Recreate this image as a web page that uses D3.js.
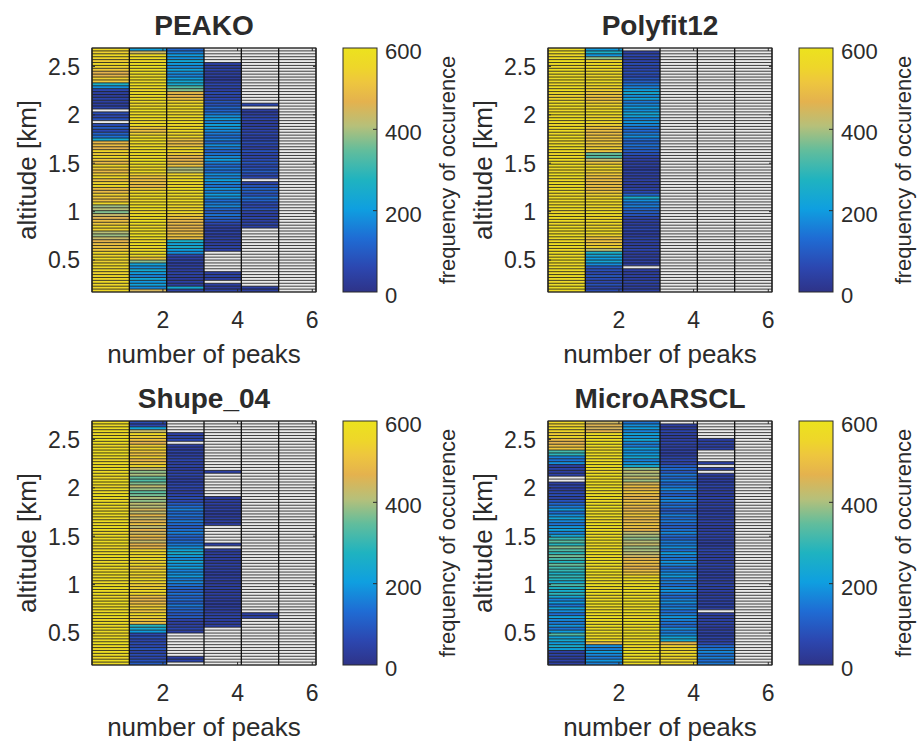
<!DOCTYPE html>
<html>
<head>
<meta charset="utf-8">
<script src="https://cdn.jsdelivr.net/npm/d3@7"></script>
<style>
  body { margin: 0; background: #fff; }
  svg { display: block; font-family: "Liberation Sans", Arial, Helvetica, sans-serif; }
</style>
</head>
<body>
<div id="chart"></div>
<script>
const _ = null; // no peaks of that count at this altitude

// number of peaks (columns) and altitude bins (rows, listed top -> bottom)
const peaks = [1, 2, 3, 4, 5, 6];
const altTop = 2.69, altBin = 0.03, nBins = 84;
const xTicks = [2, 4, 6];
const yTicks = [0.5, 1, 1.5, 2, 2.5];
const cbTicks = [0, 200, 400, 600];
const titles = ["PEAKO", "Polyfit12", "Shupe_04", "MicroARSCL"];

const noPeaks = [_,_,_,_,_,_,_,_,_,_, _,_,_,_,_,_,_,_,_,_, _,_,_,_,_,_,_,_,_,_, _,_,_,_,_,_,_,_,_,_, _,_,_,_,_,_,_,_,_,_, _,_,_,_,_,_,_,_,_,_, _,_,_,_,_,_,_,_,_,_, _,_,_,_,_,_,_,_,_,_, _,_,_,_];

const peako = [
  [560,540,570,550,530,560,545,520,470,480, 540,520,260,180,60,40,30,50,40,35, 50,_,70,60,80,_,70,100,60,110, 140,250,480,500,470,550,530,565,520,490, 550,530,490,530,560,500,545,565,500,490, 540,520,500,555,390,410,370,430,460,500, 520,555,540,410,390,430,470,500,510,520, 560,550,570,540,560,555,560,545,560,550, 565,560,555,560],
  [210,440,570,580,560,575,590,570,580,565, 580,570,590,575,560,585,570,580,575,560, 580,590,570,585,575,560,580,520,500,540, 570,580,575,560,585,570,580,560,590,575, 570,560,580,540,520,500,510,490,530,560, 575,580,560,570,585,575,560,580,570,585, 575,560,580,570,590,575,560,580,570,560, 575,560,520,380, 220,180,240,200,160,230,190,210,170,450],
  [120,150,200,180,230,200,170,220,180,160, 200,230,240,330,370,490,480,510,550,565, 575,565,550,580,565,585,560,575,565,550, 565,510,490,500,550,565,530,480,470,490, 510,400,410,550,565,575,560,565,585,570, 575,565,580,560,565,550,565,530,510,480, 490,470,480,490,510,500,260,220,250,200, 180,60,40,50,30,45,35,50,40,30, 40,35,230,45],
  [_,_,_,_,_, 40,30,50,35,45,30,40,60,50,40,70,50, 60,90,80,120,110,140, 180,200,160,210,190,170,150, 130,160,120,180,150,110,140,170,200,160, 120,150,130,180,160,210,170,140,190,160, 200,180,130,150,170,120,100,140,110,90, 60,40,35,50,30,45,40,35,50,40, _,_,_,_,_,_,_, 40,50,35, _, 40,30,45],
  [_,_,_,_,_,_,_,_,_,_, _,_,_,_,_,_,_,_,_, 60, _, 40,30,50,60,40,35,50,45,60,40, 50,70,60,40,80,60,50,70,90,60, 80,100,70,60, _, 50,90,120,100,80,140,110,70,60,90, 50,40,60,35,50,40, _,_,_,_,_,_,_,_,_,_, _,_,_,_,_,_,_,_,_,_, 40,35],
  noPeaks
];

const polyfit12 = [
  [570,580,560,575,585,570,560,580,575,565, 580,570,560,585,575,560,540,550,570,580, 575,560,580,570,585,575,560,580,570,565, 580,570,560,575,585,570,560,580,575,565, 580,570,560,585,575,560,580,570,585,575, 560,580,570,565,580,570,560,575,585,570, 560,580,575,565,580,570,560,585,575,560, 580,570,585,575,560,580,570,565,580,570, 560,575,585,570],
  [200,260,190,380, 550,570,575,560,565,555, 560,575,565,550,540,520,510,505,530,550, 560,565,575,550,565,555,540,515,500,495, 510,505,525,515,540,510,350,330,420,520, 550,565,540,525,510,500,495,505,500,520, 540,555,565,560,565,555,575,565,560,565, 560,555,565,575,550,515,510,525,550,420, 260,220,200,230,180,100,80,60,90,70, 60,80,50,70],
  [_, 40,60,50,45,70,50,60,80,60,90,100, 140,160,200,240,180,220,150,170, 200,180,230,210,160,190,170,140,120,150, 180,130,110,140,120,100,80, 50,40,35,45,30,50,40,35,45,40,30,50,60, 120,250,180,140,160,120,100,90, 50,40,35,45,60,40,30,50,45,35,40,55,40,30,45,40,35, _, 40,30,45,35,50,40,35,45],
  noPeaks,
  noPeaks,
  noPeaks
];

const shupe04 = [
  [580,570,585,575,560,580,590,575,565,580, 575,585,570,560,580,575,590,570,580,565, 585,575,560,580,570,590,575,565,580,570, 560,585,575,570,580,565,590,575,560,580, 570,585,575,560,580,570,590,575,565,580, 575,560,585,570,580,565,575,590,570,580, 560,575,585,570,580,565,590,575,560,580, 570,585,575,560,580,570,590,575,565,580, 575,560,585,570],
  [70,60,220, 430,560, 540,510,470,530,550, 520,500,540,480,520,550,430, 380,400,350,330,370,420,390,340,360,400,380,420,410, 450,420, 480,430,460,500,420,470,440,490,460,430,470,480, 540,560,550,570,540,560,520,550,560,540,570,550,530,540,560,550, 500,480,490,520,540,510,560,540,520,500, 280,240,200, 60,80,50,70,60,90,50,70,60,80,100],
  [_,_,_,_, 40,50,60, _, 40,30,50,35,45,60,40,50,30,45,55,40,35,50,60,45,40,55,70,60, 100,130,160,120,140,110,150,130,100,140,160,120,110,130,150, 180,220,250,200,170,230,190,210,160,180,200,150,170,140, 120,100,140,110,130,100,150,120,110,90,100, 50,40,45,60,40, _,_,_,_,_,_,_,_, 40,50, _],
  [_,_,_,_,_,_,_,_,_,_, _,_,_,_,_,_,_, 40, _,_,_,_,_,_,_,_, 30,35,40,30,45,35,30,40,35,30, _,_,_,_,_,_, 40, _, 35,30,40,35,30,45,35,40,30,35, 40,30,35,45,30,35,40,30,35,30, 40,35,45,50,40,35,40, _,_,_,_,_,_,_,_,_,_, _,_,_],
  [_,_,_,_,_,_,_,_,_,_, _,_,_,_,_,_,_,_,_,_, _,_,_,_,_,_,_,_,_,_, _,_,_,_,_,_,_,_,_,_, _,_,_,_,_,_,_,_,_,_, _,_,_,_,_,_,_,_,_,_, _,_,_,_,_,_, 40,45, _,_,_,_,_,_,_,_,_,_, _,_,_,_,_,_],
  noPeaks
];

const microArscl = [
  [560,540,570,550,530,560, 490,470,500,520, 320,290, 160,140,180, 40,50,35,45, _,_, 40,50,35,60,70,50,80, 120,150,200,130,180,220,170,140,190,210,160,230, 300,340,280,370,330,290,360,320,280,350,310,300, 260,300,280,240,320,270,250,290,230, 160,200,140,220,180,130,210,170,150,190,140,200,330, 220,240,200,250,210, 40,50,35,45,40],
  [440,460,450,470, 575,585,570,590,580,565,585,575,590,570, 580,585,575,560,590,580,570,585,575,590, 570,580,585,565,575,590,580,570,585,575, 560,590,580,575,585,570,590,580,565,585, 575,590,570,580,585,575,560,590,580,570, 585,575,590,570,580,585,565,575,590,580, 570,585,575,590,580,565,585,575,590,570, 580,585, 490, 180,160,200,170,150,190,160],
  [140,180,200,160,220,190,230,170,150,210,180,200,230,160,190,240, 380,420,400,430,390,450, 500,480,520,490,470,500,510,480,470,500,520,490,480,510,500,470, 420,400,380,410,430,390,400,420,440, 480,500,490,470,500,520, 560,575,585,570,590,580,565,585,575,590,570,580,585,575,560,590,580,570,585,575,590,570,580,585,565,575,590,580,570,585,575],
  [_, 40,35,50,45,30,40,55,35,45,40,30,50,60,45, 100,130,90,150,120,160,110,140,180,130,100,150,170,120,140,90,110,160,130,150,120,100,140,170,130,110,150, 150,180,130,200,160,140,190,170,120,150,180,200,140,160,130,170,190,150,120,160,180,140,170,130,150,190,160,140,120,180,150,170, 220,240, 480, 540,560,550,570,545,560,555],
  [_,_,_,_,_,_, 40,50,35,45, _,_,_,_, 40, _, 45, _, 35,40,30,45,50,35,40,30,55,40, 35,45,30,40,50,35,45,40,30,35, 50,40,45,35,30,40,55,45,35,40, 30,50,40,35,45,30,40,35,50,45, 40,30,35,45,40,50,35, _, 40,35,45,50,40,30,45,35,50,40,60, 120,150,170,140,160,130,150],
  noPeaks
];

// parula-like colormap as it appears in the printed figure
const cmapStops = [0, 0.1, 0.22, 0.34, 0.46, 0.58, 0.68, 0.78, 0.86, 0.92, 1];
const cmapColors = ["#2e3388", "#2c47b0", "#1f6cd4", "#0f9fe0", "#1fb3c0", "#62bd9c", "#b6c07a", "#e4b24e", "#eec63e", "#eed62a", "#ece21e"];

const W = 918, H = 744;
const plotW = 224, plotH = 244;
const colX = [92, 548], rowY = [48, 421];
const ink = "#2b2b2b";
const vMax = 600;

const color = d3.scaleLinear()
  .domain(cmapStops.map(t => t * vMax))
  .range(cmapColors)
  .interpolate(d3.interpolateRgb)
  .clamp(true);

const panels = [
  { title: titles[0], data: peako, x0: colX[0], y0: rowY[0] },
  { title: titles[1], data: polyfit12, x0: colX[1], y0: rowY[0] },
  { title: titles[2], data: shupe04, x0: colX[0], y0: rowY[1] },
  { title: titles[3], data: microArscl, x0: colX[1], y0: rowY[1] }
];

const svg = d3.select("#chart").append("svg").attr("width", W).attr("height", H);
svg.append("rect").attr("width", W).attr("height", H).attr("fill", "#fff");

const grad = svg.append("defs").append("linearGradient")
  .attr("id", "cmap").attr("x1", 0).attr("y1", 1).attr("x2", 0).attr("y2", 0);
grad.selectAll("stop").data(cmapStops).join("stop")
  .attr("offset", d => d).attr("stop-color", (d, i) => cmapColors[i]);

function drawPanel(p) {
  const { x0, y0 } = p;
  const g = svg.append("g");
  const x = d3.scaleLinear().domain([0.1, 6.1]).range([x0, x0 + plotW]);
  const y = d3.scaleLinear().domain([altTop - nBins * altBin, altTop]).range([y0 + plotH, y0]);

  const cells = [];
  p.data.forEach((col, ci) => col.forEach((v, ri) => {
    if (ri < nBins) cells.push({ peak: peaks[ci], top: altTop - ri * altBin, v });
  }));

  g.append("g").selectAll("rect").data(cells).join("rect")
    .attr("x", d => x(d.peak - 0.9))
    .attr("width", d => x(d.peak + 0.1) - x(d.peak - 0.9))
    .attr("y", d => y(d.top))
    .attr("height", d => y(d.top - altBin) - y(d.top))
    .attr("fill", d => d.v == null ? "#e9e9e9" : color(d.v));

  // cell edges
  const rowEdges = d3.range(nBins + 1).map(i => altTop - i * altBin);
  g.append("g").selectAll("line").data(rowEdges).join("line")
    .attr("x1", x0).attr("x2", x0 + plotW)
    .attr("y1", d => y(d)).attr("y2", d => y(d))
    .attr("stroke", "#111").attr("stroke-width", 0.8);
  g.append("g").selectAll("line").data(peaks.map(k => k - 0.9).concat([6.1])).join("line")
    .attr("x1", d => x(d)).attr("x2", d => x(d))
    .attr("y1", y0).attr("y2", y0 + plotH)
    .attr("stroke", "#111").attr("stroke-width", 1.3);

  // box and inward ticks
  g.append("rect").attr("x", x0).attr("y", y0).attr("width", plotW).attr("height", plotH)
    .attr("fill", "none").attr("stroke", ink).attr("stroke-width", 1);
  const tl = 3;
  xTicks.forEach(t => {
    g.append("line").attr("x1", x(t)).attr("x2", x(t)).attr("y1", y0 + plotH).attr("y2", y0 + plotH - tl).attr("stroke", ink);
    g.append("line").attr("x1", x(t)).attr("x2", x(t)).attr("y1", y0).attr("y2", y0 + tl).attr("stroke", ink);
  });
  yTicks.forEach(t => {
    g.append("line").attr("x1", x0).attr("x2", x0 + tl).attr("y1", y(t)).attr("y2", y(t)).attr("stroke", ink);
    g.append("line").attr("x1", x0 + plotW).attr("x2", x0 + plotW - tl).attr("y1", y(t)).attr("y2", y(t)).attr("stroke", ink);
  });

  // tick labels
  g.append("g").selectAll("text").data(yTicks).join("text")
    .attr("x", x0 - 12).attr("y", d => y(d)).attr("dy", "0.36em")
    .attr("text-anchor", "end").attr("font-size", 23).attr("fill", ink)
    .text(d => d);
  g.append("g").selectAll("text").data(xTicks).join("text")
    .attr("x", d => x(d)).attr("y", y0 + plotH + 36)
    .attr("text-anchor", "middle").attr("font-size", 23).attr("fill", ink)
    .text(d => d);

  // labels
  g.append("text").attr("x", x0 + plotW / 2).attr("y", y0 - 13)
    .attr("text-anchor", "middle").attr("font-size", 28).attr("font-weight", "bold").attr("fill", ink)
    .text(p.title);
  g.append("text").attr("x", x0 + plotW / 2).attr("y", y0 + plotH + 71)
    .attr("text-anchor", "middle").attr("font-size", 26).attr("fill", ink)
    .text("number of peaks");
  g.append("text").attr("transform", `translate(${x0 - 56},${y0 + plotH / 2}) rotate(-90)`)
    .attr("text-anchor", "middle").attr("font-size", 26).attr("fill", ink)
    .text("altitude [km]");

  // colorbar
  const cbX = x0 + 251, cbW = 34;
  const c = d3.scaleLinear().domain([0, vMax]).range([y0 + plotH, y0]);
  g.append("rect").attr("x", cbX).attr("y", y0).attr("width", cbW).attr("height", plotH)
    .attr("fill", "url(#cmap)").attr("stroke", ink).attr("stroke-width", 1);
  g.append("g").selectAll("line").data(cbTicks.slice(1, -1)).join("line")
    .attr("x1", cbX + cbW).attr("x2", cbX + cbW - 4)
    .attr("y1", d => c(d)).attr("y2", d => c(d)).attr("stroke", ink);
  g.append("g").selectAll("text").data(cbTicks).join("text")
    .attr("x", cbX + cbW + 8).attr("y", d => c(d)).attr("dy", "0.5em")
    .attr("font-size", 22).attr("fill", ink)
    .text(d => d);
  g.append("text").attr("transform", `translate(${x0 + 363},${y0 + plotH / 2}) rotate(-90)`)
    .attr("text-anchor", "middle").attr("font-size", 22).attr("fill", ink)
    .text("frequency of occurence");
}

panels.forEach(drawPanel);
</script>
</body>
</html>
